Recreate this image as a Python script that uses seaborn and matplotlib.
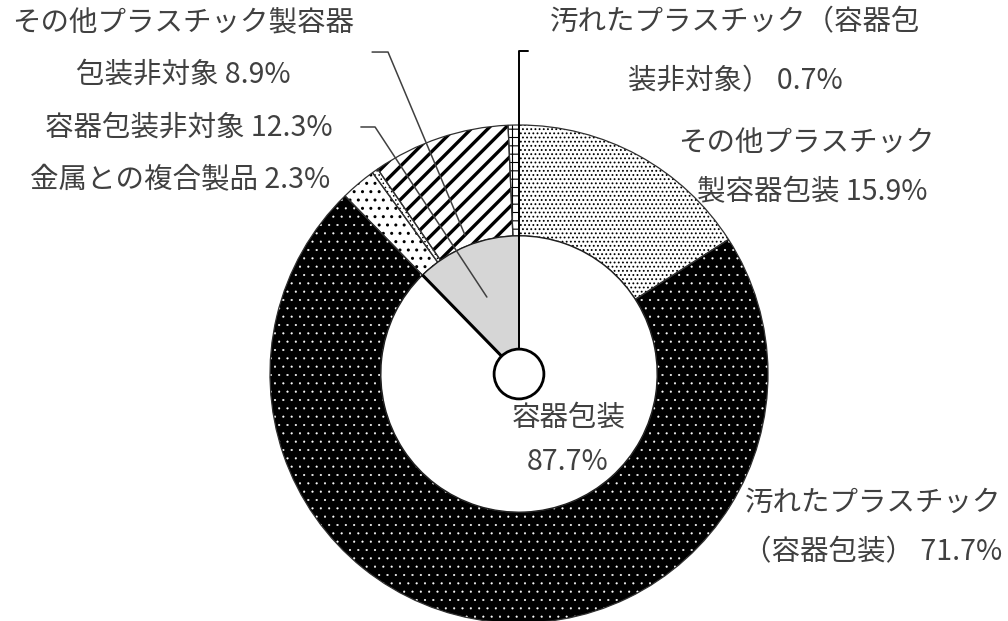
import matplotlib
matplotlib.use("Agg")
import matplotlib.pyplot as plt
import matplotlib.patches as mpatches
import numpy as np
import seaborn as sns

# outer ring (clockwise from 12 o'clock)
outer_names = ["その他プラスチック製容器包装", "汚れたプラスチック（容器包装）",
               "金属との複合製品", "その他", "その他プラスチック製容器包装非対象",
               "汚れたプラスチック（容器包装非対象）"]
outer_vals = [15.9, 71.7, 2.3, 0.4, 8.9, 0.7]
outer_hatch = ["....", "..", "..", "....", "//", "++"]
outer_hlw = [0.8, 0.3, 1.0, 0.6, 2.4, 0.8]
outer_face = ["white", "black", "white", "white", "white", "white"]
outer_hcol = ["black", "white", "black", "black", "black", "black"]

# inner pie
inner_names = ["容器包装", "容器包装非対象"]
inner_vals = [87.7, 12.3]
inner_face = ["white", "#d6d6d6"]

sns.set_theme(style="white")
plt.rcParams["font.family"] = ["Noto Sans CJK JP", "DejaVu Sans"]
plt.rcParams["hatch.linewidth"] = 1.0

fig = plt.figure(figsize=(10.08, 6.21), dpi=100)
ax = fig.add_axes([0, 0, 1, 1])

R = 1.0
r_in = 0.555

wedges, _ = ax.pie(outer_vals, radius=R, startangle=90, counterclock=False,
                   wedgeprops=dict(width=R - r_in, linewidth=0))
for w, h, lw, fc, hc in zip(wedges, outer_hatch, outer_hlw, outer_face, outer_hcol):
    w.set_facecolor(fc)
    w.set_edgecolor(hc)
    w.set_linewidth(0)
    w.set_hatch(h)
    if hasattr(w, "set_hatch_linewidth"):
        w.set_hatch_linewidth(lw)

# outlines of the ring
ax.pie(outer_vals, radius=R, startangle=90, counterclock=False,
       wedgeprops=dict(width=R - r_in, facecolor="none", edgecolor="#303030", linewidth=0.9))

# inner pie
iw, _ = ax.pie(inner_vals, radius=r_in, startangle=90, counterclock=False, colors=inner_face,
               wedgeprops=dict(edgecolor="#202020", linewidth=1.0))

# thick radial edges of the inner pie
ang = np.deg2rad(90 + 360 * inner_vals[1] / sum(inner_vals))
ax.plot([0, r_in * np.cos(ang)], [0, r_in * np.sin(ang)], color="black", lw=2.2, solid_capstyle="butt")
# leader for 0.7% starts at centre and goes straight up
ax.plot([0, 0, 0.035], [0, 1.296, 1.296], color="black", lw=1.4)

ax.add_patch(mpatches.Circle((0, 0), 0.1, facecolor="white", edgecolor="black", lw=2.0, zorder=5))

# other leaders
ax.plot([-0.635, -0.578, -0.129], [0.992, 0.992, 0.309], color="#404040", lw=1.1)
ax.plot([-0.590, -0.526, -0.217], [1.293, 1.293, 0.558], color="#404040", lw=1.1)

tc = "#404040"
fs = 20.5
ax.text(-1.349, 1.414, "その他プラスチック製容器", ha="center", va="center", fontsize=fs, color=tc)
ax.text(-1.349, 1.201, "包装非対象 8.9%", ha="center", va="center", fontsize=fs, color=tc)
ax.text(-0.747, 0.988, "容器包装非対象 12.3%", ha="right", va="center", fontsize=fs, color=tc)
ax.text(-0.759, 0.779, "金属との複合製品 2.3%", ha="right", va="center", fontsize=fs, color=tc)
ax.text(0.867, 1.414, "汚れたプラスチック（容器包", ha="center", va="center", fontsize=fs, color=tc)
ax.text(0.867, 1.177, "装非対象） 0.7%", ha="center", va="center", fontsize=fs, color=tc)
ax.text(1.153, 0.928, "その他プラスチック", ha="center", va="center", fontsize=fs, color=tc)
ax.text(1.177, 0.731, "製容器包装 15.9%", ha="center", va="center", fontsize=fs, color=tc)
ax.text(0.2, -0.177, "容器包装", ha="center", va="center", fontsize=fs, color=tc, zorder=6)
ax.text(0.197, -0.353, "87.7%", ha="center", va="center", fontsize=fs, color=tc, zorder=6)
ax.text(1.422, -0.518, "汚れたプラスチック", ha="center", va="center", fontsize=fs, color=tc)
ax.text(1.422, -0.715, "（容器包装） 71.7%", ha="center", va="center", fontsize=fs, color=tc)

ax.set_aspect("auto")
ax.set_xlim(-519 / 249, (1008 - 519) / 249)
ax.set_ylim(-(621 - 374) / 249, 374 / 249)
ax.axis("off")

fig.savefig("out.png", dpi=100, facecolor="white")
